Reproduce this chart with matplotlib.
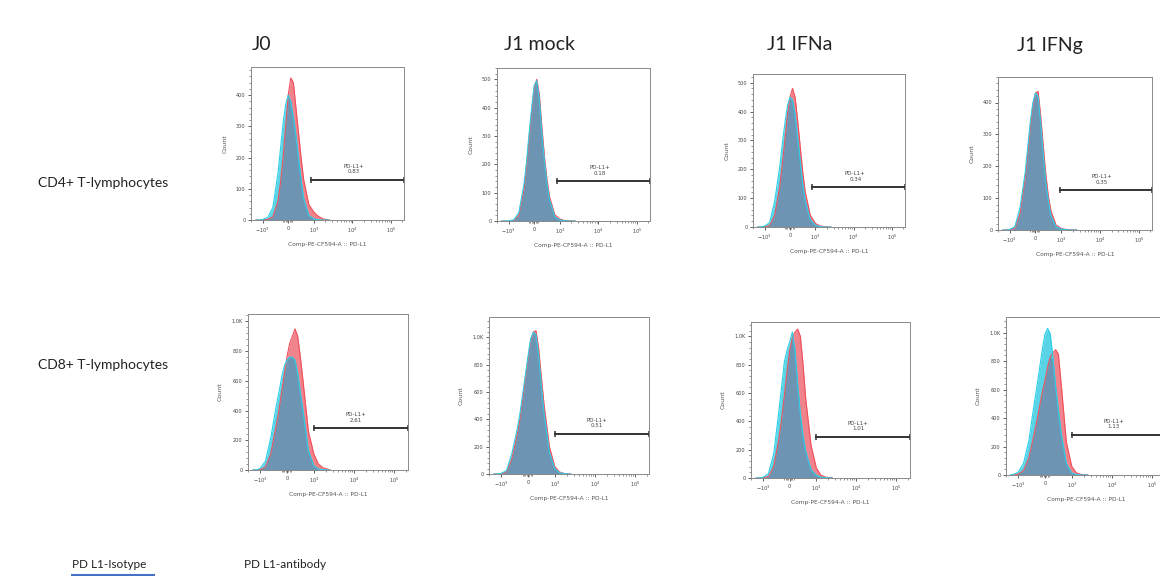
import matplotlib

matplotlib.use("Agg")
import matplotlib.pyplot as plt
import numpy as np
from matplotlib.ticker import AutoMinorLocator, FixedLocator

# fluorescence values (PE-CF594 :: PD-L1) at which the histogram counts were read
x_pe = [-1500, -1200, -1000, -800, -600, -400, -300, -200, -100, 0, 100,
        200, 300, 400, 500, 600, 800, 1000, 1300, 1700, 2500]

conditions = ["J0", "J1 mock", "J1 IFNa", "J1 IFNg"]
rows = ["CD4+ T-lymphocytes", "CD8+ T-lymphocytes"]

# CD4+ isotype (cyan) and anti PD-L1 (red) counts
cd4_j0_iso = [0, 0, 2, 8, 40, 150, 230, 310, 370, 400, 380, 330, 270, 200, 130, 70, 15, 4, 1, 0, 0]
cd4_j0_ab = [0, 0, 0, 2, 10, 60, 120, 200, 300, 400, 455, 440, 360, 280, 200, 130, 50, 25, 12, 4, 0]
cd4_mock_iso = [0, 0, 1, 4, 30, 130, 210, 310, 400, 480, 495, 430, 310, 210, 130, 75, 15, 4, 1, 0, 0]
cd4_mock_ab = [0, 0, 0, 2, 20, 110, 190, 290, 385, 470, 500, 445, 330, 225, 145, 85, 22, 7, 2, 1, 0]
cd4_ifna_iso = [0, 1, 3, 15, 90, 210, 290, 360, 420, 450, 440, 390, 310, 230, 150, 90, 25, 6, 2, 0, 0]
cd4_ifna_ab = [0, 0, 1, 5, 40, 140, 220, 300, 390, 450, 480, 450, 370, 280, 190, 120, 40, 12, 4, 1, 0]
cd4_ifng_iso = [0, 0, 2, 10, 70, 180, 260, 340, 400, 430, 420, 340, 240, 150, 90, 45, 10, 3, 1, 0, 0]
cd4_ifng_ab = [0, 0, 1, 5, 50, 160, 240, 320, 390, 430, 435, 360, 265, 175, 105, 60, 15, 5, 2, 1, 0]

# CD8+ isotype (cyan) and anti PD-L1 (red) counts
cd8_j0_iso = [0, 2, 10, 60, 220, 430, 520, 620, 700, 740, 760, 760, 740, 650, 520, 400, 130, 30, 8, 2, 0]
cd8_j0_ab = [0, 0, 3, 20, 110, 300, 400, 520, 640, 760, 850, 900, 950, 900, 760, 600, 260, 110, 40, 15, 2]
cd8_mock_iso = [0, 1, 5, 25, 150, 330, 440, 580, 720, 860, 990, 1040, 1020, 870, 650, 450, 160, 40, 10, 3, 0]
cd8_mock_ab = [0, 0, 2, 15, 110, 290, 400, 540, 690, 840, 970, 1040, 1050, 920, 710, 510, 200, 55, 15, 4, 0]
cd8_ifna_iso = [0, 1, 5, 30, 170, 480, 650, 820, 900, 960, 1030, 900, 660, 450, 300, 190, 60, 20, 6, 2, 0]
cd8_ifna_ab = [0, 0, 2, 10, 80, 280, 420, 580, 750, 900, 990, 1030, 1050, 1000, 800, 560, 230, 70, 20, 6, 1]
cd8_ifng_iso = [2, 8, 20, 80, 240, 500, 620, 750, 880, 990, 1030, 990, 820, 620, 460, 300, 80, 15, 4, 1, 0]
cd8_ifng_ab = [0, 2, 6, 30, 120, 290, 380, 480, 580, 660, 760, 830, 860, 880, 850, 650, 230, 60, 15, 4, 1]

# PD-L1+ gate: start, height (count) and % positive
gate_lo_cd4 = [900, 900, 850, 950]
gate_lo_cd8 = [1000, 1000, 1000, 1000]
gate_y_cd4 = [128, 140, 138, 125]
gate_y_cd8 = [280, 293, 289, 282]
gate_pct_cd4 = ["0.83", "0.18", "0.34", "0.35"]
gate_pct_cd8 = ["2.61", "0.51", "1.01", "1.13"]

ymax_cd4 = [490, 540, 530, 480]
ymax_cd8 = [1050, 1150, 1100, 1110]

# panel boxes in pixels: left, top, right, bottom
boxes_cd4 = [(251, 67, 404, 220), (497, 68, 650, 221), (753, 74, 905, 227), (998, 77, 1152, 230)]
boxes_cd8 = [(248, 314, 408, 470), (489, 317, 649, 474), (751, 322, 910, 478), (1006, 317, 1166, 475)]
title_x = [262, 540, 800, 1050]

W, H = 1160, 576
RED_FILL, RED_LINE = "#f0838b", "#f0505c"
CYAN_FILL, CYAN_LINE = "#58d4e6", "#2ccfe8"
OVERLAP = "#6d94b2"
TXT = "#222222"

fig = plt.figure(figsize=(W / 100, H / 100), dpi=100)


def px_axes(box):
    l, t, r, b = box
    return fig.add_axes([l / W, 1 - b / H, (r - l) / W, (b - t) / H])


def histo(box, iso, ab, ymax, ystep, lo, gy, pct):
    ax = px_axes(box)
    iso, ab = np.array(iso), np.array(ab)
    ax.fill_between(x_pe, 0, ab, color=RED_FILL, lw=0)
    ax.fill_between(x_pe, 0, iso, color=CYAN_FILL, lw=0)
    ax.fill_between(x_pe, 0, np.minimum(iso, ab), color=OVERLAP, lw=0)
    ax.plot(x_pe, ab, color=RED_LINE, lw=0.8)
    ax.plot(x_pe, iso, color=CYAN_LINE, lw=0.8)

    ax.set_xscale("symlog", linthresh=1000, linscale=0.6)
    ax.set_xlim(-2000, 2.2e5)
    ax.set_ylim(0, ymax)
    ax.set_xticks([-1000, 0, 1000, 1e4, 1e5])
    ax.set_xticklabels([r"$-10^3$", "0", r"$10^3$", r"$10^4$", r"$10^5$"])
    minors = [-200, -150, -100, -50, 50, 100, 150, -2000]
    for dec in (1e3, 1e4):
        minors += [m * dec for m in range(2, 10)]
    minors += [2e5]
    ax.xaxis.set_minor_locator(FixedLocator(minors))
    yt = np.arange(0, ymax, ystep)
    ax.set_yticks(yt)
    ax.set_yticklabels(["1.0K" if v == 1000 else str(int(v)) for v in yt])
    ax.yaxis.set_minor_locator(AutoMinorLocator(5))
    ax.tick_params(labelsize=3.6, length=2.5, width=0.6, pad=1.5, colors="#444444")
    ax.tick_params(which="minor", length=1.5, width=0.4, colors="#444444")
    for s in ax.spines.values():
        s.set_color("#8a8a8a")
        s.set_linewidth(0.7)
    ax.set_ylabel("Count", fontsize=4.5, color="#555555", labelpad=6)
    ax.set_xlabel("Comp-PE-CF594-A :: PD-L1", fontsize=4.2, color="#555555", labelpad=5)

    ax.plot([lo, 2.2e5], [gy, gy], color="#333333", lw=1.4, marker="|",
            ms=5, mew=1.1, clip_on=False)
    ax.annotate(f"PD-L1+\n{pct}", xy=(1.1e4, gy), xytext=(0, 4),
                textcoords="offset points", ha="center", va="bottom",
                fontsize=4.0, color="#444444", linespacing=1.2)
    return ax


for i in range(4):
    histo(boxes_cd4[i], [cd4_j0_iso, cd4_mock_iso, cd4_ifna_iso, cd4_ifng_iso][i],
          [cd4_j0_ab, cd4_mock_ab, cd4_ifna_ab, cd4_ifng_ab][i],
          ymax_cd4[i], 100, gate_lo_cd4[i], gate_y_cd4[i], gate_pct_cd4[i])
    histo(boxes_cd8[i], [cd8_j0_iso, cd8_mock_iso, cd8_ifna_iso, cd8_ifng_iso][i],
          [cd8_j0_ab, cd8_mock_ab, cd8_ifna_ab, cd8_ifng_ab][i],
          ymax_cd8[i], 200, gate_lo_cd8[i], gate_y_cd8[i], gate_pct_cd8[i])
    fig.text(title_x[i] / W, 1 - 45 / H, conditions[i], ha="center", va="center",
             fontsize=14, family="Lato", color=TXT)

for label, y in zip(rows, [183, 365]):
    fig.text(38 / W, 1 - y / H, label, ha="left", va="center", fontsize=10,
             family="Lato", color=TXT)

fig.text(72 / W, 1 - 564 / H, "PD L1-Isotype", ha="left", va="center", fontsize=8.5,
         family="Lato", color=TXT)
fig.text(244 / W, 1 - 564 / H, "PD L1-antibody", ha="left", va="center", fontsize=8.5,
         family="Lato", color=TXT)
fig.add_artist(plt.Line2D([72 / W, 153 / W], [1 - 575 / H, 1 - 575 / H],
                          color="#4472c4", lw=2.2))

fig.savefig("out.png", dpi=100)
